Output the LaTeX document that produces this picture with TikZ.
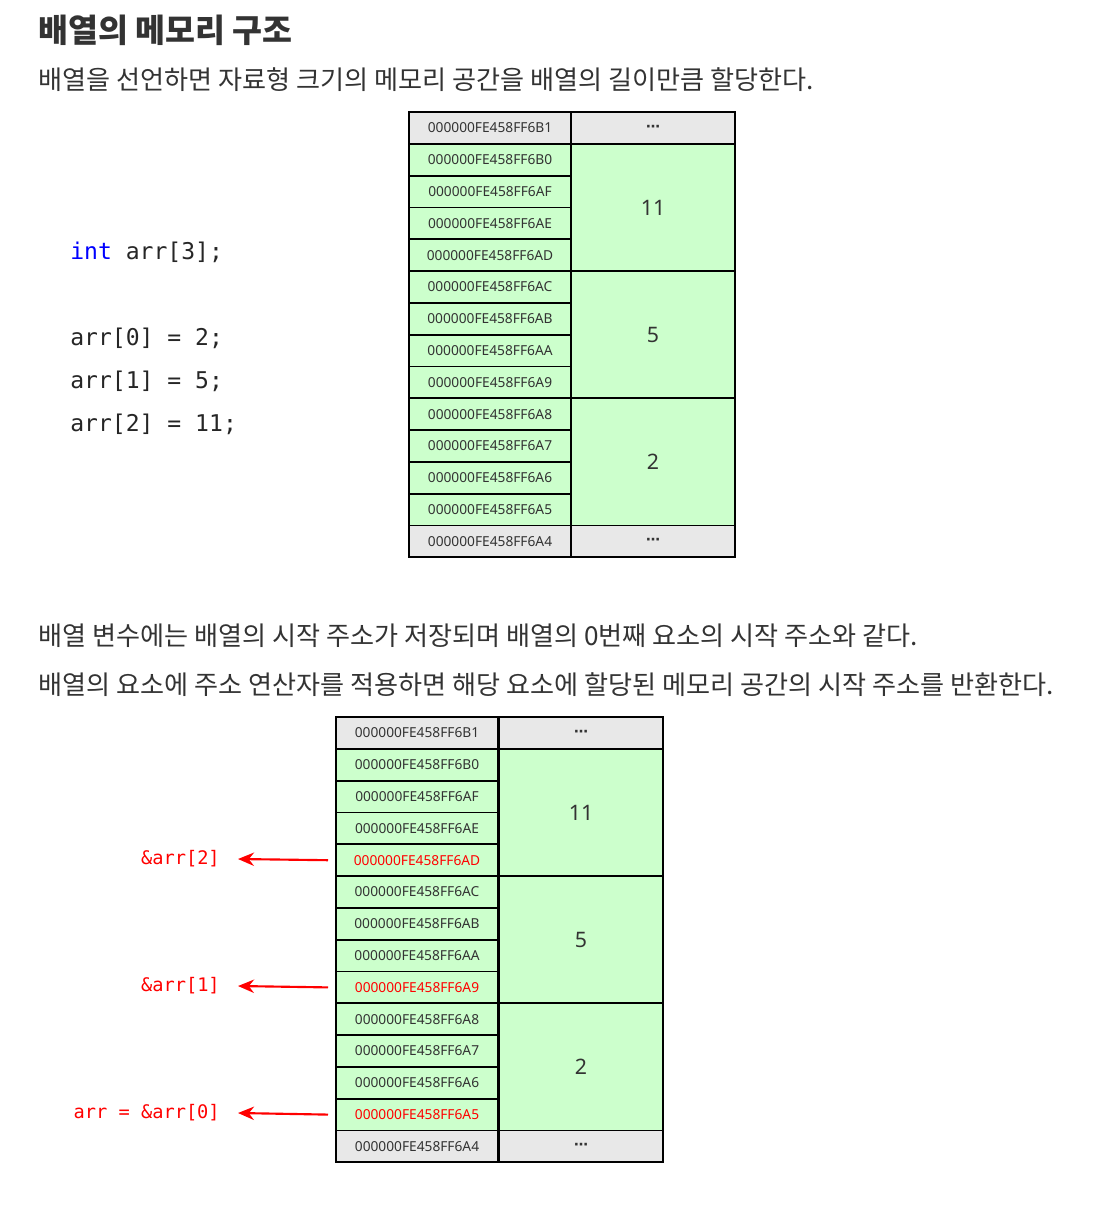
\documentclass[tikz,border=0pt]{standalone}
\usepackage{fontspec}
\setmainfont{Noto Sans}
\setmonofont{DejaVu Sans Mono}
\newfontfamily\kr{Noto Sans CJK KR}
\newfontfamily\symf{DejaVu Sans}
\usetikzlibrary{arrows.meta}

\definecolor{cellgreen}{HTML}{CCFFCC}
\definecolor{cellgrey}{HTML}{E8E8E8}
\definecolor{txt}{HTML}{333333}
\definecolor{kwblue}{HTML}{0000FF}
\definecolor{ptrred}{HTML}{FF0000}

\tikzset{
  addr/.style={draw=black,line width=1.4pt,fill=cellgreen,text=txt,
    minimum width=121.5pt,minimum height=23.85pt,inner sep=0pt,outer sep=0pt,
    font=\fontsize{10.3}{12}\selectfont},
  edge/.style={addr,fill=cellgrey},
  hotaddr/.style={addr},
  val/.style={addr,minimum width=123pt,minimum height=95.4pt,
    font=\fontsize{16}{18}\selectfont},
  dots/.style={edge,minimum width=123pt,font=\symf\bfseries\fontsize{10.5}{12}\selectfont},
  para/.style={anchor=west,inner sep=0pt,text=txt,font=\kr\fontsize{19.6}{22}\selectfont},
  code/.style={anchor=west,inner sep=0pt,text=black!85,font=\ttfamily\fontsize{17.3}{19}\selectfont},
  ptrlabel/.style={anchor=east,inner sep=0pt,text=ptrred,font=\ttfamily\fontsize{14}{15}\selectfont},
  ptr/.style={draw=ptrred,line width=1.6pt,-{Stealth[length=12pt,width=10pt]}},
}

\begin{document}
\begin{tikzpicture}[x=0.75pt,y=-0.75pt]
  \useasboundingbox (0,0) rectangle (1102,1205);

  % 제목과 설명
  \node[para,font=\kr\bfseries\fontsize{24.4}{26}\selectfont] (title) at (38,30) {배열의 메모리 구조};
  \node[para] (line1) at (38,80) {배열을 선언하면 자료형 크기의 메모리 공간을 배열의 길이만큼 할당한다.};
  \node[para] (line2) at (38,636) {배열 변수에는 배열의 시작 주소가 저장되며 배열의 0번째 요소의 시작 주소와 같다.};
  \node[para] (line3) at (38,685) {배열의 요소에 주소 연산자를 적용하면 해당 요소에 할당된 메모리 공간의 시작 주소를 반환한다.};

  % 코드
  \node[code] (decl) at (70,252) {\textcolor{kwblue}{int} arr[3];};
  \node[code] (set0) at (70,338) {arr[0] = 2;};
  \node[code] (set1) at (70,381) {arr[1] = 5;};
  \node[code] (set2) at (70,424) {arr[2] = 11;};

  % 첫 번째 메모리 표
  \begin{scope}[shift={(490,128)},name prefix=a-]
    \foreach \a/\s [count=\i from 0] in {B1/edge,B0/addr,AF/addr,AE/addr,AD/hotaddr,
        AC/addr,AB/addr,AA/addr,A9/hotaddr,A8/addr,A7/addr,A6/addr,A5/hotaddr,A4/edge}
      \node[\s] (r\i) at (0,31.8*\i) {000000FE458FF6\a};
    \node[dots] (top) at (163,0) {⋯};
    \node[val] (v2) at (163,31.8*2.5) {11};
    \node[val] (v1) at (163,31.8*6.5) {5};
    \node[val] (v0) at (163,31.8*10.5) {2};
    \node[dots] (bot) at (163,31.8*13) {⋯};
  \end{scope}

  % 두 번째 메모리 표
  \begin{scope}[shift={(417,733)},name prefix=b-,hotaddr/.style={addr,text=ptrred}]
    \foreach \a/\s [count=\i from 0] in {B1/edge,B0/addr,AF/addr,AE/addr,AD/hotaddr,
        AC/addr,AB/addr,AA/addr,A9/hotaddr,A8/addr,A7/addr,A6/addr,A5/hotaddr,A4/edge}
      \node[\s] (r\i) at (0,31.8*\i) {000000FE458FF6\a};
    \node[dots] (top) at (164,0) {⋯};
    \node[val] (v2) at (164,31.8*2.5) {11};
    \node[val] (v1) at (164,31.8*6.5) {5};
    \node[val] (v0) at (164,31.8*10.5) {2};
    \node[dots] (bot) at (164,31.8*13) {⋯};
  \end{scope}

  % 주소 연산자
  \node[ptrlabel] (p2) at (220,859) {\&arr[2]};
  \node[ptrlabel] (p1) at (220,986) {\&arr[1]};
  \node[ptrlabel] (p0) at (220,1113) {arr = \&arr[0]};
  \draw[ptr] ([xshift=-6pt]b-r4.west) -- ([xshift=13.5pt]p2.east);
  \draw[ptr] ([xshift=-6pt]b-r8.west) -- ([xshift=13.5pt]p1.east);
  \draw[ptr] ([xshift=-6pt]b-r12.west) -- ([xshift=13.5pt]p0.east);
\end{tikzpicture}
\end{document}
